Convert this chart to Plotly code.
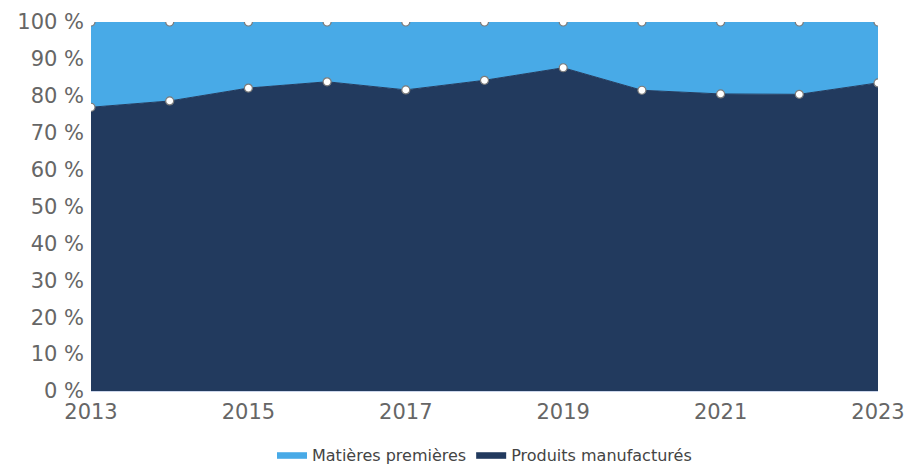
import plotly.graph_objects as go

years = [2013, 2014, 2015, 2016, 2017, 2018, 2019, 2020, 2021, 2022, 2023]
produits_manufactures = [76.9, 78.6, 82.1, 83.8, 81.6, 84.2, 87.6, 81.5, 80.5, 80.4, 83.5]
matieres_premieres = [round(100 - v, 1) for v in produits_manufactures]

y_ticks = [0, 10, 20, 30, 40, 50, 60, 70, 80, 90, 100]
y_tick_labels = [f"{v} %" for v in y_ticks]
x_ticks = [2013, 2015, 2017, 2019, 2021, 2023]

navy = "#223A5E"
light = "#48AAE7"
marker = dict(size=8, color="white", line=dict(color="#7a7a7a", width=1.2))

fig = go.Figure()
fig.add_trace(go.Scatter(
    x=years, y=produits_manufactures, name="Produits manufacturés",
    stackgroup="one", mode="lines",
    line=dict(color=navy, width=1), fillcolor=navy,
))
fig.add_trace(go.Scatter(
    x=years, y=matieres_premieres, name="Matières premières",
    stackgroup="one", mode="lines",
    line=dict(color=light, width=1), fillcolor=light,
))
# markers at the stacked positions
stack_top = [a + b for a, b in zip(produits_manufactures, matieres_premieres)]
for ys in (produits_manufactures, stack_top):
    fig.add_trace(go.Scatter(x=years, y=ys, mode="markers", marker=marker,
                             showlegend=False, cliponaxis=True))

fig.update_layout(
    width=906, height=468,
    margin=dict(l=91, r=28, t=22, b=77),
    paper_bgcolor="white", plot_bgcolor="white",
    font=dict(family="DejaVu Sans, Verdana, sans-serif", color="#666666"),
    showlegend=True,
    legend=dict(orientation="h", x=0.5, xanchor="center",
                yref="container", y=0.028, yanchor="middle",
                traceorder="reversed", font=dict(size=16, color="#444444")),
    hovermode=False,
)
fig.update_xaxes(range=[2013, 2023], tickvals=x_ticks, ticktext=[str(v) for v in x_ticks],
                 tickfont=dict(size=21, color="#666666"), showgrid=False,
                 showline=True, linecolor="#ccd6eb", ticks="", zeroline=False,
                 automargin=False, ticklabelstandoff=2)
fig.update_yaxes(range=[0, 100], tickvals=y_ticks, ticktext=y_tick_labels,
                 tickfont=dict(size=21, color="#666666"), showgrid=True, gridcolor="#e6e6e6",
                 zeroline=False, ticks="", automargin=False, ticklabelstandoff=6)

fig.write_html("out.html", config={"displayModeBar": False},
               post_script="document.body.style.margin='0';")
